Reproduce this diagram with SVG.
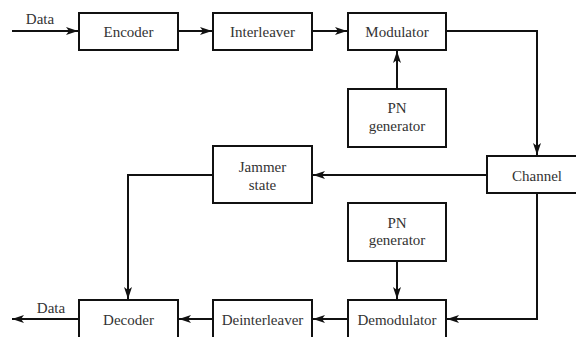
<svg xmlns="http://www.w3.org/2000/svg" width="576" height="337" viewBox="0 0 576 337">
<style>
.box{fill:#fff;stroke:#111;stroke-width:2}
.lbl{font-family:"Liberation Serif","Times New Roman",serif;font-size:15px;fill:#333;text-anchor:middle}
.wire{fill:none;stroke:#111;stroke-width:2}
</style>
<defs>
<marker id="ah" viewBox="0 0 12 8" refX="12" refY="4" markerWidth="12" markerHeight="8" markerUnits="userSpaceOnUse" orient="auto">
<path d="M0,0 L12,4 L0,8 L3,4 Z" fill="#111"/>
</marker>
</defs>
<rect width="576" height="337" fill="#fff"/>
<g id="connectors">
<path class="wire" d="M12,31 H78" marker-end="url(#ah)"/>
<path class="wire" d="M178,31 H212" marker-end="url(#ah)"/>
<path class="wire" d="M312,31 H347" marker-end="url(#ah)"/>
<path class="wire" d="M397,89 V51" marker-end="url(#ah)"/>
<path class="wire" d="M446,31 H537 V155" marker-end="url(#ah)"/>
<path class="wire" d="M487,175 H313" marker-end="url(#ah)"/>
<path class="wire" d="M213,175 H128 V299" marker-end="url(#ah)"/>
<path class="wire" d="M537,193 V319 H447" marker-end="url(#ah)"/>
<path class="wire" d="M397,261 V299" marker-end="url(#ah)"/>
<path class="wire" d="M348,319 H313" marker-end="url(#ah)"/>
<path class="wire" d="M213,319 H179" marker-end="url(#ah)"/>
<path class="wire" d="M79,319 H12" marker-end="url(#ah)"/>
</g>
<text class="lbl" x="40" y="24">Data</text>
<text class="lbl" x="51" y="313">Data</text>
<g id="encoder"><rect class="box" x="79" y="13" width="99" height="37"/><text class="lbl" x="128.5" y="37">Encoder</text></g>
<g id="interleaver"><rect class="box" x="213" y="13" width="99" height="37"/><text class="lbl" x="262.5" y="37">Interleaver</text></g>
<g id="modulator"><rect class="box" x="348" y="13" width="98" height="37"/><text class="lbl" x="397" y="37">Modulator</text></g>
<g id="pn-gen-top"><rect class="box" x="348" y="89" width="98" height="58"/><text class="lbl" x="397" y="113">PN</text><text class="lbl" x="397" y="131">generator</text></g>
<g id="channel"><rect class="box" x="487" y="156" width="100" height="37"/><text class="lbl" x="537" y="181">Channel</text></g>
<g id="jammer-state"><rect class="box" x="213" y="146" width="99" height="57"/><text class="lbl" x="262.5" y="172">Jammer</text><text class="lbl" x="262.5" y="190">state</text></g>
<g id="pn-gen-bottom"><rect class="box" x="348" y="203" width="98" height="58"/><text class="lbl" x="397" y="228">PN</text><text class="lbl" x="397" y="245">generator</text></g>
<g id="decoder"><rect class="box" x="79" y="300" width="99" height="40"/><text class="lbl" x="128.5" y="325">Decoder</text></g>
<g id="deinterleaver"><rect class="box" x="213" y="300" width="99" height="40"/><text class="lbl" x="262.5" y="325">Deinterleaver</text></g>
<g id="demodulator"><rect class="box" x="348" y="300" width="98" height="40"/><text class="lbl" x="397" y="325">Demodulator</text></g>
</svg>
